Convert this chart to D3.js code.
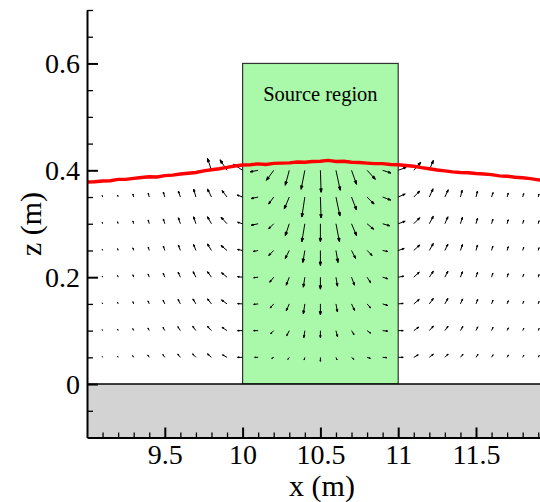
<!DOCTYPE html>
<html>
<head>
<meta charset="utf-8">
<script src="https://cdn.jsdelivr.net/npm/d3@7"></script>
<style>
  body { margin: 0; background: #fff; }
  svg text { font-family: "Liberation Serif", "Times New Roman", serif !important; fill: #000; }
</style>
</head>
<body>
<script>
// grid of the vector field (m)
const xGrid = [9.1, 9.2, 9.3, 9.4, 9.5, 9.6, 9.7, 9.8, 9.9, 10.0,
  10.1, 10.2, 10.3, 10.4, 10.5, 10.6, 10.7, 10.8, 10.9,
  11.0, 11.1, 11.2, 11.3, 11.4, 11.5, 11.6, 11.7, 11.8, 11.9];
const zGrid = [0.05, 0.1, 0.15, 0.2, 0.25, 0.3, 0.35, 0.4];

// horizontal velocity u (mm/s), one row per zGrid level
const uRows = [
  [-0.3,-0.6,-1,-1.4,-2,-2.6,-3.3,-4,-4.5,-5, -3.5,-2,-1.5,-0.7,0,1,2.3,3.3,4.3, 5,4.5,4,3.3,2.6,2,1.6,1.3,1.1,0.9],
  [-0.3,-0.5,-0.9,-1.3,-1.8,-2.5,-3.2,-4,-5,-5, -4.5,-3,-2.5,-1,0,1.5,2.5,3.5,5, 5,5,4,3.2,2.4,1.8,1.5,1.3,1.1,0.9],
  [-0.3,-0.5,-0.8,-1.2,-1.7,-2.3,-3,-4,-5.5,-5, -4.5,-3.5,-3,-1.5,0,1.5,3,3.5,5, 5,5.5,4,3,2.2,1.7,1.4,1.2,1,0.8],
  [-0.3,-0.5,-0.8,-1.1,-1.6,-2.2,-2.8,-4,-5.5,-5, -4.5,-4,-3,-1.5,0,1.5,3,3.5,5, 5.5,5.5,4,3,2,1.6,1.3,1.1,1,0.8],
  [-0.3,-0.5,-0.8,-1,-1.5,-2,-2.3,-4,-6,-5, -5,-5,-4,-2,0,2,4,5,5, 6,6,4,3,2,1.5,1.3,1.1,1,0.8],
  [-0.3,-0.5,-0.8,-1,-1.5,-2,-2.3,-4,-6,-5, -7,-5,-4,-3,0,3.5,5,6.5,7, 7,6,4,3,2,1.5,1.3,1.1,1,0.8],
  [-0.3,-0.5,-0.8,-1,-1.5,-2,-2.3,-4,-5,-5.5, -7,-5,-5,-3,0.7,4,5,7,8, 7,6,3.7,3.3,1.7,1.5,1.5,1.2,1,0.8],
  [null,null,null,null,null,null,null,-4,-7,-9, -8,-7.3,-4,-3.7,0.7,4.3,5,8.3,8.3, 8,7,4,null,null,null,null,null,null,null]
];
// vertical velocity w (mm/s)
const wRows = [
  [0.8,1.2,1.7,2.3,2.8,3.3,3.5,3.5,2.5,0, 0,-1,-2,-2.7,-4,-2.5,-2,-1,-0.3, 0,2.5,3.2,3.3,3.2,3,2.6,2.3,2,1.8],
  [0.9,1.4,2,2.7,3.3,4,4.3,4.3,3.3,0, 0,-3,-5,-7,-7,-6,-4,-2.5,-0.5, 0,3.5,4.5,4.5,4.2,3.8,3.3,2.8,2.4,2.1],
  [1,1.5,2.2,3,3.7,4.5,5,5,4,0.3, -0.5,-4,-7,-10,-11,-8,-6.5,-4,-1.5, 0.5,4.5,5.5,5.5,5,4.5,3.8,3.2,2.8,2.4],
  [1.1,1.7,2.4,3.2,4,5,5.5,5.5,4.5,0.5, -0.5,-5,-8,-10,-12,-9,-8,-5.5,-1.5, 1,5,6,6,5.5,5,4.2,3.5,3,2.6],
  [1.2,1.8,2.6,3.5,4.5,5.5,6,6.5,5,1, -1,-5,-8,-12,-15,-12,-8,-5,-1, 2,5.5,7,6.5,6,5.5,4.5,3.8,3.3,2.8],
  [1.3,2,2.8,3.8,4.8,6,7,7,6.5,1.5, -1.5,-5,-12,-18,-18,-18,-12,-5.5,-2, 2.5,6,7.5,7,6.5,5.5,4.5,4,3.5,3],
  [1.5,2,3,4,5,6,8,8,6.5,2, -1.5,-7,-12,-20,-21,-19,-13,-7,-3, 3,6,8.3,7.3,6.7,6,4.5,4,3.5,3],
  [null,null,null,null,null,null,null,12,10.5,6, -1.5,-10,-15,-19,-22,-20,-14,-9,-2.7, 3,8,10,null,null,null,null,null,null,null]
];

// free surface
const surfX = [9.00,9.05,9.10,9.15,9.20,9.25,9.30,9.35,9.40,9.45,9.50,9.55,9.60,9.65,9.70,9.75,9.80,9.85,9.90,9.95,
  10.00,10.05,10.10,10.15,10.20,10.25,10.30,10.35,10.40,10.45,10.50,10.55,10.60,10.65,10.70,10.75,10.80,10.85,10.90,10.95,
  11.00,11.05,11.10,11.15,11.20,11.25,11.30,11.35,11.40,11.45,11.50,11.55,11.60,11.65,11.70,11.75,11.80,11.85,11.90,11.95];
const surfZ = [0.378,0.3785,0.380,0.3805,0.383,0.383,0.385,0.3865,0.388,0.3875,0.390,0.391,0.393,0.3945,0.396,0.399,0.401,0.403,0.4055,0.408,
  0.410,0.4105,0.412,0.411,0.413,0.4135,0.414,0.4155,0.415,0.4165,0.417,0.4185,0.4165,0.417,0.415,0.4145,0.4135,0.4125,0.4125,0.411,
  0.4105,0.409,0.4075,0.405,0.403,0.4005,0.399,0.397,0.396,0.3955,0.394,0.393,0.392,0.3895,0.389,0.387,0.386,0.3845,0.382,0.381];

const sourceX = [10, 11];
const sourceZ = [0, 0.6];
const xMajor = [9.5, 10, 10.5, 11, 11.5];
const xMinor = [9.1,9.2,9.3,9.4,9.6,9.7,9.8,9.9,10.1,10.2,10.3,10.4,10.6,10.7,10.8,10.9,
  11.1,11.2,11.3,11.4,11.6,11.7,11.8,11.9];
const zMajor = [0, 0.2, 0.4, 0.6];
const zMinor = [-0.05,0.05,0.1,0.15,0.25,0.3,0.35,0.45,0.5,0.55,0.65,0.7];

const W = 540, H = 502;
const svg = d3.select("body").append("svg").attr("width", W).attr("height", H);

const x = d3.scaleLinear().domain([9, 12]).range([87, 553.8]);
const z = d3.scaleLinear().domain([-0.1, 0.7]).range([437.5, 10]);
const vScale = d3.scaleLinear().domain([0, 25]).range([0, 25]);

svg.append("clipPath").attr("id", "plot")
  .append("rect").attr("x", 87).attr("y", 10).attr("width", W - 87).attr("height", 437.5 - 10);

const g = svg.append("g").attr("clip-path", "url(#plot)");

// source region
g.append("rect")
  .attr("x", x(sourceX[0])).attr("y", z(sourceZ[1]))
  .attr("width", x(sourceX[1]) - x(sourceX[0]))
  .attr("height", z(sourceZ[0]) - z(sourceZ[1]))
  .attr("fill", "#aaf9aa").attr("stroke", "#333").attr("stroke-width", 1.2);

// bed
g.append("rect")
  .attr("x", x(9)).attr("y", z(0))
  .attr("width", x(12) - x(9)).attr("height", z(-0.1) - z(0))
  .attr("fill", "#d3d3d3");
g.append("line")
  .attr("x1", x(9)).attr("x2", x(12)).attr("y1", z(0)).attr("y2", z(0))
  .attr("stroke", "#000").attr("stroke-width", 1.5);

// velocity vectors
const vecs = [];
zGrid.forEach((zz, i) => {
  xGrid.forEach((xx, j) => {
    const u = uRows[i][j], w = wRows[i][j];
    if (u == null || w == null) return;
    vecs.push({x0: x(xx), y0: z(zz), dx: vScale(u), dy: -vScale(w)});
  });
});

g.append("g").selectAll("path").data(vecs).enter().append("path")
  .attr("d", d => {
    const p = d3.path();
    const x1 = d.x0 + d.dx, y1 = d.y0 + d.dy;
    const len = Math.hypot(d.dx, d.dy);
    p.moveTo(d.x0, d.y0);
    p.lineTo(x1, y1);
    if (len > 0.5) {
      const ux = d.dx / len, uy = d.dy / len;
      const hl = Math.min(len * 0.3, 3.5), hw = hl * 0.35;
      p.moveTo(x1, y1);
      p.lineTo(x1 - ux * hl - uy * hw, y1 - uy * hl + ux * hw);
      p.lineTo(x1 - ux * hl + uy * hw, y1 - uy * hl - ux * hw);
      p.closePath();
    }
    return p.toString();
  })
  .attr("fill", "#000").attr("stroke", "#000").attr("stroke-width", 1);

// free surface
g.append("path")
  .datum(d3.zip(surfX, surfZ))
  .attr("d", d3.line().x(d => x(d[0])).y(d => z(d[1])))
  .attr("fill", "none").attr("stroke", "#ff0000").attr("stroke-width", 3.4);

// label
svg.append("text")
  .attr("x", x(10.5)).attr("y", z(0.53))
  .attr("text-anchor", "middle").attr("font-size", 20.5)
  .text("Source region");

// axes
const fmt = d3.format("~g");
const styleAxis = sel => {
  sel.attr("font-family", null);
  sel.select(".domain").attr("stroke-width", 2);
  sel.selectAll(".tick line").attr("stroke-width", 2);
  sel.selectAll("text").attr("font-size", 28);
};

const xAxisG = svg.append("g").attr("transform", `translate(0,${z(-0.1)})`);
xAxisG.append("g")
  .call(d3.axisBottom(x).tickValues(xMinor).tickSize(-5).tickSizeOuter(0).tickFormat(""))
  .call(s => { s.select(".domain").remove(); s.selectAll(".tick line").attr("stroke-width", 1.3); });
xAxisG.append("g")
  .call(d3.axisBottom(x).tickValues(xMajor).tickSize(-10).tickSizeOuter(0).tickPadding(7).tickFormat(fmt))
  .call(styleAxis);

const zAxisG = svg.append("g").attr("transform", `translate(${x(9)},0)`);
zAxisG.append("g")
  .call(d3.axisLeft(z).tickValues(zMinor).tickSize(-6).tickSizeOuter(0).tickFormat(""))
  .call(s => { s.select(".domain").remove(); s.selectAll(".tick line").attr("stroke-width", 1.3); });
zAxisG.append("g")
  .call(d3.axisLeft(z).tickValues(zMajor).tickSize(-11).tickSizeOuter(0).tickPadding(7).tickFormat(fmt))
  .call(styleAxis);

// axis titles
svg.append("text")
  .attr("x", 322).attr("y", 496)
  .attr("text-anchor", "middle").attr("font-size", 30)
  .text("x (m)");
svg.append("text")
  .attr("transform", "translate(41,224) rotate(-90)")
  .attr("text-anchor", "middle").attr("font-size", 30)
  .text("z (m)");
</script>
</body>
</html>
